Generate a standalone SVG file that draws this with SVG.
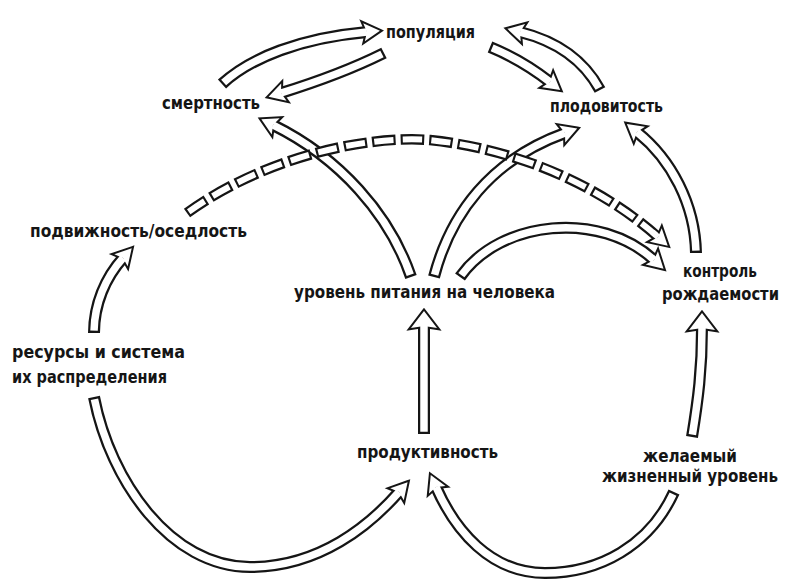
<svg xmlns="http://www.w3.org/2000/svg" width="790" height="579" viewBox="0 0 790 579">
<style>
.t{font-family:"DejaVu Sans Condensed","DejaVu Sans","Liberation Sans",sans-serif;font-size:18px;font-weight:bold;fill:#151515}
.bo{fill:none;stroke:#151515;stroke-width:12;marker-end:url(#hb)}
.bi{fill:none;stroke:#fff;stroke-width:7.5;stroke-dasharray:0 2.3 4000;marker-end:url(#hw)}
.wo{fill:none;stroke:#151515;stroke-width:12;marker-end:url(#hbw)}
.wi{fill:none;stroke:#fff;stroke-width:7.5;stroke-dasharray:0 2.3 4000;marker-end:url(#hww)}
.do{fill:none;stroke:#151515;stroke-width:10.5;stroke-dasharray:4.59 1.02;marker-end:url(#hb)}
.di{fill:none;stroke:#fff;stroke-width:6;stroke-dasharray:3.75 1.86;stroke-dashoffset:-0.42;marker-end:url(#hw)}
.dj{fill:none;stroke:#fff;stroke-width:6}
</style>
<defs>
<marker id="hb" markerUnits="userSpaceOnUse" orient="auto" overflow="visible" markerWidth="40" markerHeight="40" refX="0" refY="0"><polygon points="13,0 -3,-9 0,0 -3,9" fill="#151515" stroke="#151515" stroke-width="4"/></marker>
<marker id="hw" markerUnits="userSpaceOnUse" orient="auto" overflow="visible" markerWidth="40" markerHeight="40" refX="0" refY="0"><polygon points="13,0 -3,-9 0,0 -3,9" fill="#fff"/></marker>
<marker id="hbw" markerUnits="userSpaceOnUse" orient="auto" overflow="visible" markerWidth="40" markerHeight="40" refX="0" refY="0"><polygon points="15,0 -2,-13 0,0 -2,13" fill="#151515" stroke="#151515" stroke-width="4"/></marker>
<marker id="hww" markerUnits="userSpaceOnUse" orient="auto" overflow="visible" markerWidth="40" markerHeight="40" refX="0" refY="0"><polygon points="15,0 -2,-13 0,0 -2,13" fill="#fff"/></marker>
</defs>
<rect width="790" height="579" fill="#fff"/>
<g id="connectors">
<g id="a-smert-pop"><path class="bo" d="M222,84 C250,58 300,38 367,32"/><path class="bi" d="M222,84 C250,58 300,38 367,32"/></g>
<g id="a-pop-smert"><path class="bo" d="M384,53 C350,70 310,84 281,93"/><path class="bi" d="M384,53 C350,70 310,84 281,93"/></g>
<g id="a-pop-plod"><path class="bo" d="M490,47 Q522,60 550,82"/><path class="bi" d="M490,47 Q522,60 550,82"/></g>
<g id="a-plod-pop"><path class="bo" d="M600,90 C585,62 560,42 520,32"/><path class="bi" d="M600,90 C585,62 560,42 520,32"/></g>
<g id="a-ur-smert"><path class="bo" d="M411,277 C390,215 340,158 273,125"/><path class="bi" d="M411,277 C390,215 340,158 273,125"/></g>
<g id="a-ur-plod"><path class="bo" d="M434,277 C450,215 490,160 565,133"/><path class="bi" d="M434,277 C450,215 490,160 565,133"/></g>
<g id="a-ur-kontr"><path class="bo" d="M460,277 C500,220 600,210 654,260"/><path class="bi" d="M460,277 C500,220 600,210 654,260"/></g>
<g id="a-kontr-plod"><path class="bo" d="M696,253 C695,205 672,160 637,132"/><path class="bi" d="M696,253 C695,205 672,160 637,132"/></g>
<g id="a-res-podv"><path class="bo" d="M94,333 C94,305 105,278 123,258"/><path class="bi" d="M94,333 C94,305 105,278 123,258"/></g>
<g id="a-prod-ur"><path class="wo" d="M424,434 L424,326"/><path class="wi" d="M424,434 L424,326"/></g>
<g id="a-zhel-kontr"><path class="wo" d="M692,437 C698,400 702,370 702,328"/><path class="wi" d="M692,437 C698,400 702,370 702,328"/></g>
<g id="a-res-prod"><path class="bo" d="M94,397 C110,480 170,567 250,567 C320,567 370,525 399,492"/><path class="bi" d="M94,397 C110,480 170,567 250,567 C320,567 370,525 399,492"/></g>
<g id="a-zhel-prod"><path class="bo" d="M674,492 C650,545 600,573 545,573 C490,573 455,530 436,487"/><path class="bi" d="M674,492 C650,545 600,573 545,573 C490,573 455,530 436,487"/></g>
<g id="a-podv-kontr"><path class="do" pathLength="100" d="M187,213 C260,160 360,135 430,140 C525,150 605,190 658,237"/><path class="di" pathLength="100" d="M187,213 C260,160 360,135 430,140 C525,150 605,190 658,237"/><path class="dj" d="M652.4,232.1 L658,237"/></g>
</g>
<g id="n-populyatsiya"><text class="t" x="386" y="38" textLength="89" lengthAdjust="spacingAndGlyphs">популяция</text></g>
<g id="n-smertnost"><text class="t" x="162" y="109" textLength="98" lengthAdjust="spacingAndGlyphs">смертность</text></g>
<g id="n-plodovitost"><text class="t" x="550" y="112" textLength="113" lengthAdjust="spacingAndGlyphs">плодовитость</text></g>
<g id="n-podvizhnost"><text class="t" x="30" y="237" textLength="217" lengthAdjust="spacingAndGlyphs">подвижность/оседлость</text></g>
<g id="n-uroven"><text class="t" x="294" y="298" textLength="261" lengthAdjust="spacingAndGlyphs">уровень питания на человека</text></g>
<g id="n-kontrol"><text class="t" x="683" y="277" textLength="74" lengthAdjust="spacingAndGlyphs">контроль</text><text class="t" x="662" y="300" textLength="117" lengthAdjust="spacingAndGlyphs">рождаемости</text></g>
<g id="n-resursy"><text class="t" x="12" y="358" textLength="173" lengthAdjust="spacingAndGlyphs">ресурсы и система</text><text class="t" x="12" y="383" textLength="155" lengthAdjust="spacingAndGlyphs">их распределения</text></g>
<g id="n-produktivnost"><text class="t" x="357" y="458" textLength="141" lengthAdjust="spacingAndGlyphs">продуктивность</text></g>
<g id="n-zhelaemyi"><text class="t" x="643" y="462" textLength="94" lengthAdjust="spacingAndGlyphs">желаемый</text><text class="t" x="602" y="482" textLength="176" lengthAdjust="spacingAndGlyphs">жизненный уровень</text></g>
</svg>
